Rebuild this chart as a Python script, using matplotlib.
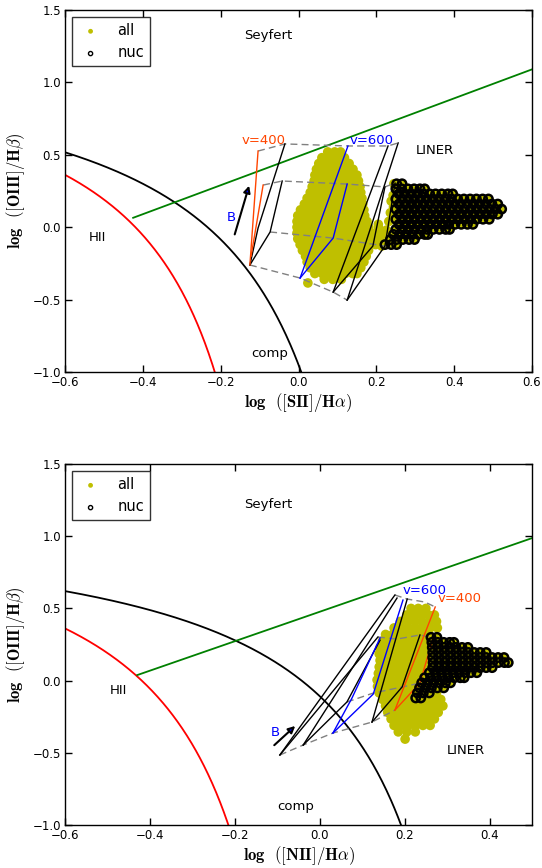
import numpy as np
import matplotlib
matplotlib.use("Agg")
from matplotlib import pyplot as plt

plt.rcParams["mathtext.fontset"] = "cm"
plt.rcParams["font.family"] = "DejaVu Sans"

# ---------------------------------------------------------------- data
# demarcation curves: y = a / (x - b) + c
KAUFF = (0.61, 0.05, 1.30)
KEWLEY_SII = (0.72, 0.32, 1.30)
KEWLEY_NII = (0.61, 0.47, 1.19)
# Seyfert / LINER straight lines: (x_start, slope, intercept)
SEYLIN_SII = (-0.425, 1.00, 0.49)
SEYLIN_NII = (-0.43, 1.02, 0.477)

# "all" spaxels, rows of (y, [x ...])
top_all_rows = [
    (0.52, [0.075, 0.093, 0.108]),
    (0.48, [0.060, 0.079, 0.099, 0.118]),
    (0.44, [0.052, 0.071, 0.090, 0.110, 0.130]),
    (0.40, [0.046, 0.064, 0.083, 0.103, 0.122, 0.140]),
    (0.36, [0.042, 0.060, 0.080, 0.099, 0.119, 0.137, 0.150]),
    (0.32, [0.040, 0.058, 0.077, 0.097, 0.116, 0.135, 0.154]),
    (0.28, [0.035, 0.053, 0.072, 0.092, 0.111, 0.131, 0.149, 0.158]),
    (0.24, [0.030, 0.049, 0.068, 0.088, 0.107, 0.126, 0.145, 0.160]),
    (0.20, [0.022, 0.041, 0.060, 0.080, 0.099, 0.118, 0.138, 0.156, 0.163]),
    (0.16, [0.015, 0.034, 0.053, 0.073, 0.092, 0.112, 0.131, 0.150, 0.165]),
    (0.12, [0.005, 0.025, 0.044, 0.064, 0.083, 0.103, 0.122, 0.142, 0.160, 0.168]),
    (0.08, [-0.002, 0.017, 0.037, 0.056, 0.076, 0.095, 0.115, 0.134, 0.153, 0.170]),
    (0.04, [-0.004, 0.014, 0.033, 0.053, 0.072, 0.092, 0.111, 0.131, 0.150, 0.168, 0.176]),
    (0.00, [-0.004, 0.015, 0.035, 0.054, 0.074, 0.093, 0.113, 0.132, 0.152, 0.170, 0.180, 0.205]),
    (-0.04, [-0.004, 0.013, 0.032, 0.052, 0.071, 0.091, 0.110, 0.130, 0.149, 0.168, 0.188, 0.207, 0.225]),
    (-0.08, [-0.002, 0.016, 0.036, 0.055, 0.075, 0.094, 0.114, 0.133, 0.153, 0.172, 0.192, 0.211, 0.230]),
    (-0.12, [0.004, 0.023, 0.043, 0.062, 0.082, 0.101, 0.121, 0.140, 0.160, 0.179, 0.198, 0.215]),
    (-0.16, [0.010, 0.029, 0.049, 0.068, 0.088, 0.107, 0.127, 0.146, 0.165, 0.180]),
    (-0.20, [0.018, 0.037, 0.057, 0.076, 0.096, 0.115, 0.135, 0.154, 0.174]),
    (-0.24, [0.022, 0.041, 0.061, 0.080, 0.100, 0.119, 0.139, 0.158, 0.168]),
    (-0.28, [0.030, 0.049, 0.069, 0.088, 0.108, 0.127, 0.147, 0.160]),
    (-0.32, [0.042, 0.061, 0.081, 0.100, 0.120, 0.139, 0.150]),
    (-0.36, [0.066, 0.088, 0.110]),
]
top_all_extra_x = [0.024, 0.245, 0.250, 0.243, 0.238, 0.244, 0.236, 0.250,
                   0.232, 0.205, 0.226, 0.212, 0.192, 0.214, 0.235]
top_all_extra_y = [-0.385, 0.30, 0.26, 0.22, 0.18, 0.14, 0.10, 0.06,
                   0.04, 0.02, -0.02, -0.05, -0.10, -0.13, -0.10]

top_nuc_rows = [
    (0.300, [0.252, 0.266]),
    (0.265, [0.250, 0.265, 0.281, 0.297, 0.312, 0.324]),
    (0.230, [0.258, 0.273, 0.289, 0.305, 0.321, 0.337, 0.352, 0.368, 0.384, 0.396]),
    (0.195, [0.250, 0.266, 0.282, 0.297, 0.313, 0.329, 0.345, 0.361, 0.377, 0.393,
             0.409, 0.425, 0.441, 0.457, 0.473, 0.488]),
    (0.160, [0.258, 0.274, 0.290, 0.305, 0.321, 0.337, 0.353, 0.369, 0.385, 0.401,
             0.417, 0.433, 0.449, 0.465, 0.481, 0.497, 0.512]),
    (0.125, [0.250, 0.266, 0.282, 0.298, 0.314, 0.330, 0.346, 0.362, 0.378, 0.394,
             0.410, 0.426, 0.442, 0.458, 0.474, 0.490, 0.506, 0.522]),
    (0.090, [0.258, 0.274, 0.290, 0.306, 0.322, 0.338, 0.354, 0.370, 0.386, 0.402,
             0.418, 0.434, 0.450, 0.466, 0.482, 0.498, 0.512]),
    (0.055, [0.250, 0.266, 0.282, 0.298, 0.314, 0.330, 0.346, 0.362, 0.378, 0.394,
             0.410, 0.426, 0.442, 0.458, 0.474, 0.490]),
    (0.020, [0.258, 0.274, 0.290, 0.306, 0.322, 0.338, 0.354, 0.370, 0.386, 0.402,
             0.418, 0.434, 0.448]),
    (-0.015, [0.250, 0.266, 0.282, 0.298, 0.314, 0.330, 0.346, 0.362, 0.378, 0.388]),
    (-0.050, [0.244, 0.260, 0.276, 0.292, 0.308, 0.324, 0.332]),
    (-0.085, [0.236, 0.252, 0.268, 0.284, 0.298]),
    (-0.120, [0.222, 0.238, 0.252]),
]

bot_all_rows = [
    (0.500, [0.215, 0.232, 0.250]),
    (0.455, [0.205, 0.222, 0.239, 0.256, 0.270]),
    (0.410, [0.190, 0.207, 0.224, 0.241, 0.258, 0.275]),
    (0.365, [0.175, 0.192, 0.209, 0.226, 0.243, 0.260, 0.277]),
    (0.320, [0.155, 0.172, 0.189, 0.206, 0.223, 0.240, 0.257]),
    (0.275, [0.148, 0.165, 0.182, 0.199, 0.216, 0.233, 0.250, 0.262]),
    (0.230, [0.142, 0.159, 0.176, 0.193, 0.210, 0.227, 0.244, 0.262]),
    (0.185, [0.140, 0.155, 0.172, 0.189, 0.206, 0.223, 0.240, 0.257]),
    (0.140, [0.142, 0.159, 0.176, 0.193, 0.210, 0.227, 0.244, 0.262]),
    (0.095, [0.140, 0.155, 0.172, 0.189, 0.206, 0.223, 0.240, 0.257]),
    (0.050, [0.138, 0.152, 0.169, 0.186, 0.203, 0.220, 0.237, 0.254]),
    (0.005, [0.135, 0.150, 0.167, 0.184, 0.201, 0.218, 0.235, 0.250]),
    (-0.040, [0.136, 0.153, 0.170, 0.187, 0.204, 0.221, 0.238, 0.255]),
    (-0.085, [0.140, 0.157, 0.174, 0.191, 0.208, 0.225, 0.242, 0.260, 0.275]),
    (-0.130, [0.148, 0.165, 0.182, 0.199, 0.216, 0.233, 0.250, 0.267, 0.285]),
    (-0.175, [0.155, 0.172, 0.189, 0.206, 0.223, 0.240, 0.257, 0.274, 0.290]),
    (-0.220, [0.160, 0.177, 0.194, 0.211, 0.228, 0.245, 0.262, 0.279]),
    (-0.265, [0.168, 0.185, 0.202, 0.219, 0.236, 0.253, 0.270]),
    (-0.310, [0.175, 0.192, 0.209, 0.226, 0.243, 0.260]),
    (-0.355, [0.185, 0.205, 0.225]),
]
bot_all_extra_x = [0.201]
bot_all_extra_y = [-0.405]

bot_nuc_rows = [
    (0.300, [0.262, 0.276]),
    (0.265, [0.264, 0.278, 0.292, 0.306, 0.316]),
    (0.230, [0.265, 0.279, 0.293, 0.307, 0.321, 0.335, 0.349]),
    (0.195, [0.266, 0.280, 0.294, 0.308, 0.322, 0.336, 0.350, 0.364, 0.378, 0.392]),
    (0.160, [0.266, 0.280, 0.294, 0.308, 0.322, 0.336, 0.350, 0.364, 0.378, 0.392,
             0.406, 0.420, 0.434]),
    (0.125, [0.267, 0.281, 0.295, 0.309, 0.323, 0.337, 0.351, 0.365, 0.379, 0.393,
             0.407, 0.421, 0.435, 0.444]),
    (0.090, [0.266, 0.280, 0.294, 0.308, 0.322, 0.336, 0.350, 0.364, 0.378, 0.392, 0.406]),
    (0.055, [0.258, 0.272, 0.286, 0.300, 0.314, 0.328, 0.342, 0.356, 0.370]),
    (0.020, [0.247, 0.261, 0.275, 0.289, 0.303, 0.317, 0.331, 0.340]),
    (-0.015, [0.240, 0.254, 0.268, 0.282, 0.296, 0.308]),
    (-0.050, [0.235, 0.249, 0.263, 0.277, 0.292]),
    (-0.085, [0.230, 0.244, 0.258]),
    (-0.120, [0.226, 0.238]),
]

# shock model grids: constant-B (dashed) and constant-velocity polylines
top_grid_b = [
    ([-0.125, 0.004, 0.089, 0.125], [-0.261, -0.351, -0.448, -0.503]),
    ([-0.073, 0.089, 0.222, 0.243], [-0.033, -0.075, -0.130, -0.137]),
    ([-0.091, -0.042, 0.125, 0.222, 0.248], [0.291, 0.319, 0.298, 0.278, 0.305]),
    ([-0.104, -0.035, 0.127, 0.230, 0.256], [0.526, 0.575, 0.561, 0.561, 0.582]),
]
top_grid_v = [
    ([-0.125, -0.073, -0.042], [-0.261, -0.033, 0.319]),
    ([-0.125, -0.104, -0.035], [-0.261, -0.006, 0.575]),
    ([0.089, 0.230], [-0.448, 0.561]),
    ([0.125, 0.256], [-0.503, 0.582]),
    ([0.089, 0.191, 0.222], [-0.448, -0.130, 0.278]),
    ([0.125, 0.222, 0.248], [-0.503, -0.130, 0.305]),
]
top_v600 = [
    ([0.004, 0.127], [-0.351, 0.561]),
    ([0.004, 0.089, 0.125], [-0.351, -0.075, 0.298]),
]
top_v400 = [
    ([-0.125, -0.104], [-0.261, 0.526]),
    ([-0.122, -0.091], [-0.200, 0.291]),
]

bot_grid_b = [
    ([-0.094, -0.039, 0.031, 0.123, 0.177], [-0.515, -0.446, -0.363, -0.287, -0.204]),
    ([0.064, 0.126, 0.194, 0.236], [-0.148, -0.086, -0.044, -0.017]),
    ([0.137, 0.182, 0.236, 0.267], [0.302, 0.288, 0.316, 0.295]),
    ([0.177, 0.206, 0.248, 0.272], [0.593, 0.565, 0.544, 0.510]),
]
bot_grid_v = [
    ([-0.094, 0.177], [-0.515, 0.593]),
    ([-0.039, 0.182], [-0.446, 0.572]),
    ([-0.094, 0.137], [-0.515, 0.302]),
    ([-0.039, 0.064, 0.142], [-0.446, -0.148, 0.280]),
    ([0.123, 0.194, 0.236], [-0.287, -0.044, 0.316]),
    ([0.123, 0.206], [-0.287, 0.565]),
]
bot_v600 = [
    ([0.031, 0.126, 0.196], [-0.363, -0.093, 0.558]),
    ([0.031, 0.076, 0.142], [-0.363, -0.120, 0.295]),
]
bot_v400 = [
    ([0.177, 0.236, 0.267], [-0.204, -0.017, 0.295]),
    ([0.177, 0.272], [-0.204, 0.510]),
]


def rows_to_xy(rows):
    xs = [x for y, row in rows for x in row]
    ys = [y for y, row in rows for x in row]
    return np.array(xs), np.array(ys)


def demarc(ax, coef, xmax, color):
    a, b, c = coef
    x = np.linspace(-0.6, min(xmax, b - 0.01), 400)
    ax.plot(x, a / (x - b) + c, color=color, lw=1.3, zorder=2)


def draw_panel(ax, all_rows, extra_x, extra_y, nuc_rows, grid_b, grid_v,
               v600, v400, kew, seylin, xlim, xticks, xlabel, labels):
    ax_x, ax_y = rows_to_xy(all_rows)
    nx, ny = rows_to_xy(nuc_rows)
    # 'all' contains the nuclear spaxels too
    allx = np.concatenate([ax_x, extra_x, nx])
    ally = np.concatenate([ax_y, extra_y, ny])
    ax.scatter(allx, ally, s=48, c="#bfbf00", edgecolors="none",
               label="all", zorder=1)

    demarc(ax, KAUFF, xlim[1], "red")
    demarc(ax, kew, xlim[1], "black")
    x0, m, q = seylin
    xs = np.array([x0, xlim[1]])
    ax.plot(xs, m * xs + q, color="green", lw=1.3, zorder=2)

    for gx, gy in grid_b:
        ax.plot(gx, gy, color="gray", ls="--", lw=1.0, dashes=(5, 3), zorder=3)
    for gx, gy in grid_v:
        ax.plot(gx, gy, color="black", lw=1.0, zorder=3)
    for gx, gy in v600:
        ax.plot(gx, gy, color="blue", lw=1.0, zorder=3)
    for gx, gy in v400:
        ax.plot(gx, gy, color="orangered", lw=1.0, zorder=3)

    ax.scatter(nx, ny, s=36, facecolors="none", edgecolors="black",
               linewidths=1.8, label="nuc", zorder=4)

    for txt, x, y, col in labels:
        ax.text(x, y, txt, color=col, fontsize=9.5, ha="center", va="center")

    ax.set_xlim(*xlim)
    ax.set_ylim(-1.0, 1.5)
    ax.set_xticks(xticks)
    ax.set_yticks([-1.0, -0.5, 0.0, 0.5, 1.0, 1.5])
    ax.tick_params(direction="in", top=True, right=True, length=5,
                   width=1, labelsize=8.5, pad=3)
    for sp in ax.spines.values():
        sp.set_linewidth(1.0)
    ax.set_xlabel(xlabel, fontsize=12, labelpad=1)
    ax.set_ylabel(r"$\mathbf{log}\ \ ([\mathbf{OIII}]/\mathbf{H}\beta)$",
                  fontsize=12, labelpad=4)
    leg = ax.legend(loc="upper left", scatterpoints=1, fontsize=10.5,
                    fancybox=False, edgecolor="black", markerscale=0.5,
                    handletextpad=1.0, borderpad=0.4, borderaxespad=0.5,
                    handlelength=1.7)
    leg.get_frame().set_linewidth(1.0)
    leg.legend_handles[1].set_linewidth(1.0)


fig = plt.figure(figsize=(5.42, 8.68), dpi=100)
ax1 = fig.add_axes([0.12, 0.5714, 0.8616, 0.4171])
ax2 = fig.add_axes([0.12, 0.0495, 0.8616, 0.4159])

draw_panel(
    ax1, top_all_rows, top_all_extra_x, top_all_extra_y, top_nuc_rows,
    top_grid_b, top_grid_v, top_v600, top_v400, KEWLEY_SII, SEYLIN_SII,
    (-0.6, 0.6), [-0.6, -0.4, -0.2, 0.0, 0.2, 0.4, 0.6],
    r"$\mathbf{log}\ \ ([\mathbf{SII}]/\mathbf{H}\alpha)$",
    [("Seyfert", -0.078, 1.327, "black"), ("LINER", 0.351, 0.533, "black"),
     ("HII", -0.518, -0.068, "black"), ("comp", -0.073, -0.869, "black"),
     ("v=400", -0.091, 0.602, "orangered"), ("v=600", 0.189, 0.602, "blue"),
     ("B", -0.173, 0.064, "blue")],
)
ax1.annotate("", xy=(-0.125, 0.305), xytext=(-0.166, -0.068),
             arrowprops=dict(arrowstyle="-|>", ec="black", fc="blue",
                             lw=1.5, mutation_scale=10), zorder=5)

draw_panel(
    ax2, bot_all_rows, bot_all_extra_x, bot_all_extra_y, bot_nuc_rows,
    bot_grid_b, bot_grid_v, bot_v600, bot_v400, KEWLEY_NII, SEYLIN_NII,
    (-0.6, 0.5), [-0.6, -0.4, -0.2, 0.0, 0.2, 0.4],
    r"$\mathbf{log}\ \ ([\mathbf{NII}]/\mathbf{H}\alpha)$",
    [("Seyfert", -0.122, 1.223, "black"), ("LINER", 0.345, -0.481, "black"),
     ("HII", -0.475, -0.065, "black"), ("comp", -0.056, -0.875, "black"),
     ("v=400", 0.330, 0.572, "orangered"), ("v=600", 0.248, 0.627, "blue"),
     ("B", -0.105, -0.356, "blue")],
)
ax2.annotate("", xy=(-0.053, -0.301), xytext=(-0.112, -0.460),
             arrowprops=dict(arrowstyle="-|>", ec="black", fc="blue",
                             lw=1.5, mutation_scale=10), zorder=5)

fig.savefig("out.png", dpi=100, facecolor="white")
